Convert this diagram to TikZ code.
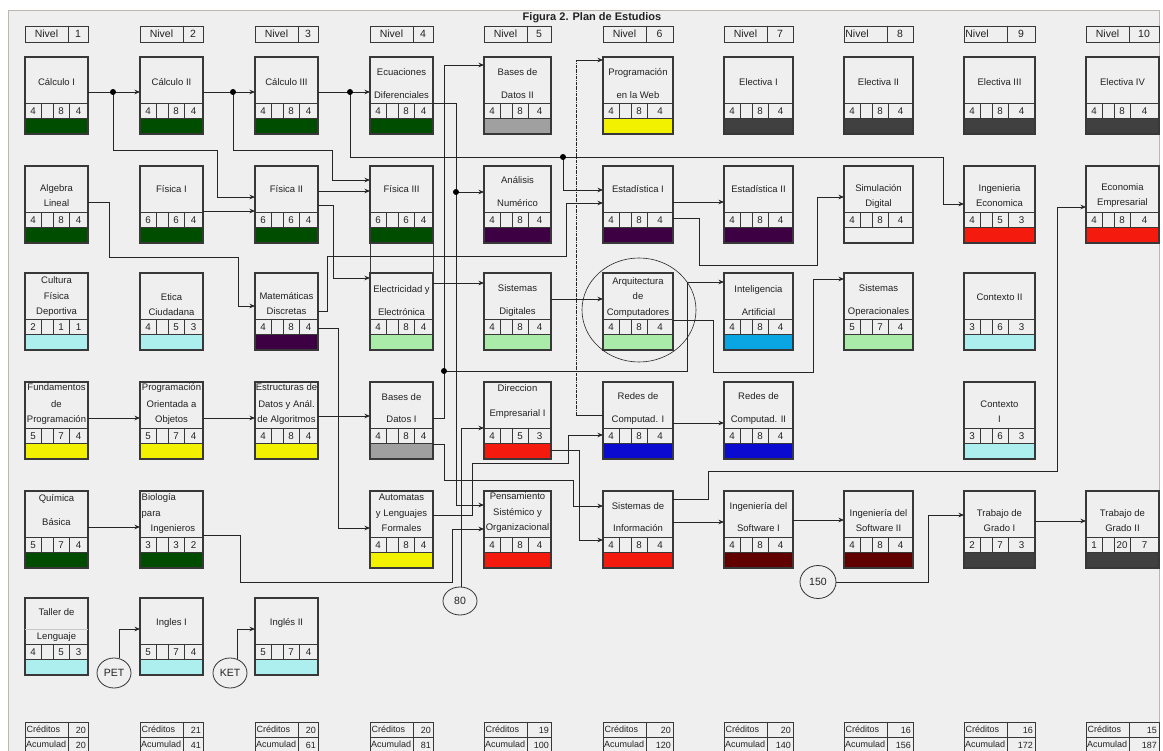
\documentclass[tikz,border=0pt]{standalone}
\usepackage{fontspec}
\setmainfont{Liberation Sans}
\usetikzlibrary{arrows.meta,calc,shapes.geometric}
\definecolor{bg}{HTML}{EFEFEF}
\definecolor{framec}{HTML}{BFB5AF}
\definecolor{edge}{HTML}{383838}
\definecolor{txt}{HTML}{222222}
\definecolor{dgreen}{HTML}{004D00}
\definecolor{bdgray}{HTML}{A0A0A0}
\definecolor{cyel}{HTML}{F2F200}
\definecolor{dgray}{HTML}{404040}
\definecolor{cpurp}{HTML}{3D0042}
\definecolor{cred}{HTML}{F41A0E}
\definecolor{lcyan}{HTML}{ADEEEE}
\definecolor{lgreen}{HTML}{AAEBAA}
\definecolor{skyb}{HTML}{0AA6E4}
\definecolor{cblue}{HTML}{0A0AD0}
\definecolor{maroon}{HTML}{600000}
\tikzset{
 cbox/.style={draw=edge, line width=1.2pt, inner sep=0, outer sep=0, minimum height=77pt, anchor=north west},
 cline/.style={draw=edge, line width=0.9pt},
 ctext/.style={font=\fontsize{9.5}{15}\selectfont, align=center, inner sep=0, text=txt},
 numtext/.style={font=\fontsize{9.8}{11}\selectfont, inner sep=0, text=txt},
 lvlbox/.style={draw=edge, line width=0.9pt, inner sep=0, outer sep=0, minimum height=16pt, anchor=north west},
 lvltext/.style={font=\fontsize{10.5}{12}\selectfont, inner sep=0, text=txt},
 credbox/.style={draw=edge, line width=0.9pt, inner sep=0, outer sep=0, minimum height=30pt, anchor=north west},
 credtext/.style={font=\fontsize{9}{10}\selectfont, inner sep=0, text=txt},
 conn/.style={draw=black!85, line width=0.8pt},
 arr/.style={conn, -{Stealth[length=5.5pt,width=4.5pt]}},
 jdot/.style={circle, fill=black, inner sep=0, minimum size=6pt},
 circlab/.style={ellipse, draw=black!80, line width=0.8pt, inner sep=0, font=\fontsize{10.5}{12}\selectfont, text=txt},
}
% course box: name, x, y, width, n1, n2, n3, colour
\newcommand\course[8]{%
 \fill[#8] (#2,#3+61) rectangle ++(#4,16);
 \node[cbox, minimum width=#4pt] (#1) at (#2,#3) {};
 \draw[cline] (#2,#3+46) -- ++(#4,0) (#2,#3+61) -- ++(#4,0)
   (#2+16,#3+46) -- ++(0,15) (#2+28,#3+46) -- ++(0,15) (#2+44,#3+46) -- ++(0,15);
 \node[numtext] (#1-a) at (#2+8,#3+54) {#5};
 \node[numtext] (#1-b) at (#2+36,#3+54) {#6};
 \node[numtext] (#1-c) at ({#2+22+#4/2},{#3+54}) {#7};
}
\newcommand\ctext[3][25]{\node[ctext] (#2-t) at ($(#2.north)+(0,#1)$) {#3};}
\newcommand\nivel[5][21.5]{%
 \node[lvlbox, minimum width=#4pt] (#2) at (#3,26) {};
 \draw[cline] (#3+43,26) -- ++(0,16);
 \node[lvltext] (#2-a) at (#3+#1,34) {Nivel};
 \node[lvltext] (#2-b) at ({#3+21.5+#4/2},34) {#5};}
\newcommand\cred[5]{%
 \node[credbox, minimum width=#3pt] (#1) at (#2,722) {};
 \draw[cline] (#2,737) -- ++(#3,0) (#2+43,722) -- ++(0,30);
 \node[credtext, anchor=west] (#1-l1) at (#2+1.5,729.5) {Créditos};
 \node[credtext, anchor=west] (#1-l2) at (#2+1,744.5) {Acumulad};
 \node[credtext, anchor=east] (#1-v1) at (#2+#3-2,730) {#4};
 \node[credtext, anchor=east] (#1-v2) at (#2+#3-2,745) {#5};}
\begin{document}
\begin{tikzpicture}[x=1pt,y=-1pt]
\useasboundingbox (0,0) rectangle (1163,751);
\clip (0,0) rectangle (1163,751);
\fill[white] (0,0) rectangle (1163,751);
\fill[bg] (8,10) rectangle (1159,760);
\draw[framec, line width=0.8pt] (8,760) -- (8,10) -- (1159,10) -- (1159,760);
\node[font=\fontsize{11}{13}\selectfont\bfseries, text=txt, inner sep=0] (title) at (592,18) {Figura 2. Plan de Estudios};

% level headers
\nivel{n1}{25}{63}{1}
\nivel{n2}{140}{63}{2}
\nivel{n3}{255}{63}{3}
\nivel{n4}{370}{63}{4}
\nivel{n5}{484}{67}{5}
\nivel{n6}{603}{70}{6}
\nivel{n7}{724}{69}{7}
\nivel[13]{n8}{844}{69}{8}
\nivel[13]{n9}{964}{71}{9}
\nivel{n10}{1086}{73}{10}

% row 1
\course{calcI}{25}{57}{63}{4}{8}{4}{dgreen}\ctext{calcI}{Cálculo I}
\course{calcII}{140}{57}{63}{4}{8}{4}{dgreen}\ctext{calcII}{Cálculo II}
\course{calcIII}{255}{57}{63}{4}{8}{4}{dgreen}\ctext{calcIII}{Cálculo III}
\course{ecu}{370}{57}{63}{4}{8}{4}{dgreen}\ctext[27]{ecu}{Ecuaciones\\[8pt]Diferenciales}
\course{bdII}{484}{57}{67}{4}{8}{4}{bdgray}\ctext[27]{bdII}{Bases de\\[8pt]Datos II}
\course{web}{603}{57}{70}{4}{8}{4}{cyel}\ctext[27]{web}{Programación\\[8pt]en la Web}
\course{elI}{724}{57}{69}{4}{8}{4}{dgray}\ctext{elI}{Electiva I}
\course{elII}{844}{57}{69}{4}{8}{4}{dgray}\ctext{elII}{Electiva II}
\course{elIII}{964}{57}{71}{4}{8}{4}{dgray}\ctext{elIII}{Electiva III}
\course{elIV}{1086}{57}{73}{4}{8}{4}{dgray}\ctext{elIV}{Electiva IV}

% row 2
\course{alg}{25}{166}{63}{4}{8}{4}{dgreen}\ctext[30]{alg}{Algebra\\Lineal}
\course{fisI}{140}{166}{63}{6}{6}{4}{dgreen}\ctext[23]{fisI}{Física I}
\course{fisII}{255}{166}{63}{6}{6}{4}{dgreen}\ctext[23]{fisII}{Física II}
\course{fisIII}{370}{166}{63}{6}{6}{4}{dgreen}\ctext[23]{fisIII}{Física III}
\course{anum}{484}{166}{67}{4}{8}{4}{cpurp}\ctext[26]{anum}{Análisis\\[8pt]Numérico}
\course{estI}{603}{166}{70}{4}{8}{4}{cpurp}\ctext[23]{estI}{Estadística I}
\course{estII}{724}{166}{69}{4}{8}{4}{cpurp}\ctext[23]{estII}{Estadística II}
\course{sim}{844}{166}{69}{4}{8}{4}{bg}\ctext[30]{sim}{Simulación\\Digital}
\course{ieco}{964}{166}{71}{4}{5}{3}{cred}\ctext[30]{ieco}{Ingenieria\\Economica}
\course{eemp}{1086}{166}{73}{4}{8}{4}{cred}\ctext[30]{eemp}{Economia\\Empresarial}

% row 3
\course{cult}{25}{273}{63}{2}{1}{1}{lcyan}\ctext[24]{cult}{Cultura\\[0.5pt]Física\\[0.5pt]Deportiva}
\course{etica}{140}{273}{63}{4}{5}{3}{lcyan}\ctext[32]{etica}{Etica\\Ciudadana}
\course{mdis}{255}{273}{63}{4}{8}{4}{cpurp}\ctext[31]{mdis}{Matemáticas\\Discretas}
\course{elec}{370}{273}{63}{4}{8}{4}{lgreen}\ctext[28]{elec}{Electricidad y\\[8pt]Electrónica}
\course{sdig}{484}{273}{67}{4}{8}{4}{lgreen}\ctext[28]{sdig}{Sistemas\\[8pt]Digitales}
\course{arq}{603}{273}{70}{4}{8}{4}{lgreen}\ctext[24.5]{arq}{Arquitectura\\[0.5pt]de\\[0.5pt]Computadores}
\course{ia}{724}{273}{69}{4}{8}{4}{skyb}\ctext[28]{ia}{Inteligencia\\[8pt]Artificial}
\course{sop}{844}{273}{69}{5}{7}{4}{lgreen}\ctext[28]{sop}{Sistemas\\[8pt]Operacionales}
\course{ctxII}{964}{273}{71}{3}{6}{3}{lcyan}\ctext[24]{ctxII}{Contexto II}

% row 4
\course{fund}{25}{382}{63}{5}{7}{4}{cyel}\ctext[22]{fund}{Fundamentos\\[1.5pt]de\\Programación}
\course{poo}{140}{382}{63}{5}{7}{4}{cyel}\ctext[22]{poo}{Programación\\[1.5pt]Orientada a\\Objetos}
\course{edaa}{255}{382}{63}{4}{8}{4}{cyel}\ctext[22]{edaa}{Estructuras de\\[1.5pt]Datos y Anál.\\de Algoritmos}
\course{bdI}{370}{382}{63}{4}{8}{4}{bdgray}\ctext[26.5]{bdI}{Bases de\\[7pt]Datos I}
\course{dir}{484}{382}{67}{4}{5}{3}{cred}\ctext[19.5]{dir}{Direccion\\[10pt]Empresarial I}
\course{redI}{603}{382}{70}{4}{8}{4}{cblue}\ctext[27]{redI}{Redes de\\[8pt]Computad. I}
\course{redII}{724}{382}{69}{4}{8}{4}{cblue}\ctext[27]{redII}{Redes de\\[8pt]Computad. II}
\course{ctxI}{964}{382}{71}{3}{6}{3}{lcyan}\ctext[30]{ctxI}{Contexto\\I}

% row 5
\course{quim}{25}{491}{63}{5}{7}{4}{dgreen}\ctext[19]{quim}{Química\\[9pt]Básica}
\course{bio}{140}{491}{63}{3}{3}{2}{dgreen}
\node[ctext, align=left, anchor=west] (bio-t) at ($(bio.north west)+(1.5,22.5)$) {Biología\\[0.5pt]para\\\hspace*{9pt}Ingenieros};
\course{auto}{370}{491}{63}{4}{8}{4}{cyel}\ctext[22]{auto}{Automatas\\[1pt]y Lenguajes\\Formales}
\course{pens}{484}{491}{67}{4}{8}{4}{cred}\ctext[22]{pens}{Pensamiento\\[1pt]Sistémico y\\Organizacional}
\course{sinf}{603}{491}{70}{4}{8}{4}{cred}\ctext[26.5]{sinf}{Sistemas de\\[7pt]Información}
\course{isI}{724}{491}{69}{4}{8}{4}{maroon}\ctext[26.5]{isI}{Ingeniería del\\[7pt]Software I}
\course{isII}{844}{491}{69}{4}{8}{4}{maroon}\ctext[30]{isII}{Ingeniería del\\Software II}
\course{tgI}{964}{491}{71}{2}{7}{3}{dgray}\ctext[30]{tgI}{Trabajo de\\Grado I}
\course{tgII}{1086}{491}{73}{1}{20}{7}{dgray}\ctext[30]{tgII}{Trabajo de\\Grado II}

% row 6
\course{taller}{25}{598}{63}{4}{5}{3}{lcyan}
\draw[black!22, line width=0.5pt] ($(taller.north west)+(0,31)$) -- ($(taller.north east)+(0,31)$);
\ctext[27.5]{taller}{Taller de\\[9pt]Lenguaje}
\course{ingI}{140}{598}{63}{5}{7}{4}{lcyan}\ctext{ingI}{Ingles I}
\course{ingII}{255}{598}{63}{5}{7}{4}{lcyan}\ctext{ingII}{Inglés II}

% Física III to Electricidad frame
\draw[cline] (fisIII.south west) -- (elec.north west) (fisIII.south east) -- (elec.north east);

% circles
\node[circlab, minimum width=34pt, minimum height=30pt] (pet) at (114,673) {PET};
\node[circlab, minimum width=34pt, minimum height=30pt] (ket) at (230,673) {KET};
\node[circlab, minimum width=34pt, minimum height=28pt] (c80) at (460,601) {80};
\node[circlab, minimum width=36pt, minimum height=33pt] (c150) at (818,582) {150};

% junction coordinates
\coordinate (j1) at (113,92);
\coordinate (j2) at (233,92);
\coordinate (j3) at (350,92);
\coordinate (j4) at (563,157);
\coordinate (j5) at (456,192);
\coordinate (j6) at (444,371);

% connectors
\draw[arr] (calcI.east |- j1) -- (calcII.west |- j1);
\draw[arr] (j1) -- (113,150) -- (217,150) -- (217,197) -- (fisII.west |- 0,197);
\draw[arr] (calcII.east |- j2) -- (calcIII.west |- j2);
\draw[arr] (j2) -- (233,150) -- (332,150) -- (332,180) -- (fisIII.west |- 0,180);
\draw[arr] (calcIII.east |- j3) -- (ecu.west |- j3);
\draw[arr] (j3) -- (350,157) -- (943,157) -- (943,204) -- (ieco.west |- 0,204);
\draw[arr] (j4) -- (563,190) -- (estI.west |- 0,190);
\draw[arr] (fisI.east |- 0,211) -- (fisII.west |- 0,211);
\draw[arr] (fisII.east |- 0,191) -- (fisIII.west |- 0,191);
\draw[arr] (fisII.east |- 0,205) -- (333,205) -- (333,278) -- (elec.west |- 0,278);
\draw[arr] (mdis.east |- 0,311) -- (327,311) -- (327,256) -- (566,256) -- (566,203) -- (estI.west |- 0,203);
\draw[arr] (mdis.east |- 0,328) -- (338,328) -- (338,528) -- (auto.west |- 0,528);
\draw[arr] (alg.east |- 0,202) -- (109,202) -- (109,257) -- (238,257) -- (238,306) -- (mdis.west |- 0,306);
\draw[arr] (fund.east |- 0,418) -- (poo.west |- 0,418);
\draw[arr] (poo.east |- 0,418) -- (edaa.west |- 0,418);
\draw[arr] (edaa.east |- 0,416) -- (bdI.west |- 0,416);
\draw[arr] (quim.east |- 0,527) -- (bio.west |- 0,527);
\draw[arr] (bio.east |- 0,535) -- (240,535) -- (240,582) -- (452,582) -- (452,529) -- (pens.west |- 0,529);
\draw[arr] (pet.70) |- (ingI.west |- 0,629);
\draw[arr] (ket.62) |- (ingII.west |- 0,629);
\draw[arr] (ecu.east |- 0,103) -- (456,103) -- (456,505) -- (pens.west |- 0,505);
\draw[arr] (j5) -- (anum.west |- j5);
\draw[arr] (bdI.east |- 0,418) -- (444,418) -- (444,65) -- (bdII.west |- 0,65);
\draw[arr] (j6) -- (687,371) -- (687,282) -- (ia.west |- 0,282);
\draw[arr] (elec.east |- 0,283) -- (sdig.west |- 0,283);
\draw[arr] (sdig.east |- 0,299) -- (arq.west |- 0,299);
\draw[arr] (arq.east |- 0,320) -- (713,320) -- (713,372) -- (813,372) -- (813,279) -- (sop.west |- 0,279);
\draw[arr] (estI.east |- 0,202) -- (estII.west |- 0,202);
\draw[arr] (estI.east |- 0,218) -- (699,218) -- (699,265) -- (817,265) -- (817,197) -- (sim.west |- 0,197);
\draw[arr] (redI.east |- 0,423) -- (redII.west |- 0,423);
\draw[conn] (redI.west |- 0,415) -- (576,415);
\draw[conn, line width=0.6pt, densely dashdotted] (576,415) -- (576,60);
\draw[arr] (576,60) -- (web.west |- 0,60);
\draw[arr] (auto.east |- 0,515) -- (472,515) -- (472,463) -- (568,463) -- (568,435) -- (redI.west |- 0,435);
\draw[arr] (c80.83) |- (dir.west |- 0,428);
\draw[arr] (bdI.east |- 0,444) -- (444,444) -- (444,480) -- (573,480) -- (573,506) -- (sinf.west |- 0,506);
\draw[arr] (dir.east |- 0,450) -- (579,450) -- (579,540) -- (sinf.west |- 0,540);
\draw[arr] (sinf.east |- 0,499) -- (708,499) -- (708,471) -- (1057,471) -- (1057,207) -- (eemp.west |- 0,207);
\draw[arr] (sinf.east |- 0,522) -- (isI.west |- 0,522);
\draw[arr] (isI.east |- 0,520) -- (isII.west |- 0,520);
\draw[arr] (c150.east) -| (928,515) -- (tgI.west |- 0,515);
\draw[arr] (tgI.east |- 0,521) -- (tgII.west |- 0,521);

% junction dots
\node[jdot] (d1) at (j1) {};
\node[jdot] (d2) at (j2) {};
\node[jdot] (d3) at (j3) {};
\node[jdot] (d4) at (j4) {};
\node[jdot] (d5) at (j5) {};
\node[jdot] (d6) at (j6) {};

% circle around Arquitectura
\node[ellipse, draw=black!85, line width=0.6pt, inner sep=0, minimum width=114pt, minimum height=104pt] (arqring) at (639,310) {};

% credits
\cred{k1}{25}{63}{20}{20}
\cred{k2}{140}{63}{21}{41}
\cred{k3}{255}{63}{20}{61}
\cred{k4}{370}{63}{20}{81}
\cred{k5}{484}{67}{19}{100}
\cred{k6}{603}{70}{20}{120}
\cred{k7}{724}{69}{20}{140}
\cred{k8}{844}{69}{16}{156}
\cred{k9}{964}{71}{16}{172}
\cred{k10}{1086}{73}{15}{187}
\end{tikzpicture}
\end{document}
